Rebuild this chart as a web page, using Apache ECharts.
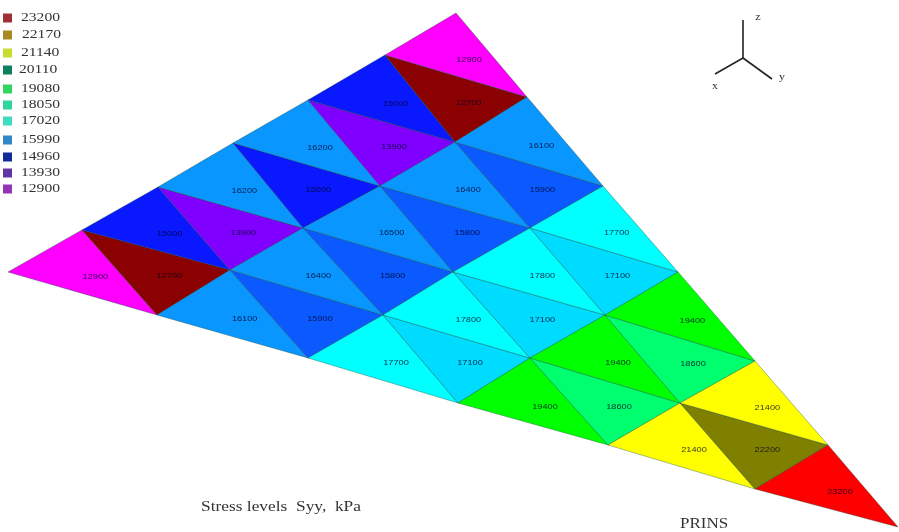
<!DOCTYPE html>
<html>
<head>
<meta charset="utf-8">
<style>html,body{margin:0;padding:0;background:#fff}#c{width:899px;height:532px;filter:blur(0.5px)}</style>
<script src="https://cdn.jsdelivr.net/npm/echarts@6/dist/echarts.min.js"></script>
</head>
<body>
<div id="c"></div>
<script>
// Mesh node positions, one list per row of the mesh
const nodeRowsX = [
  [8, 82, 158, 233, 308, 385, 456],
  [157, 230, 303, 380, 455, 527],
  [308, 383, 453, 530, 603],
  [458, 530, 605, 678],
  [608, 680, 755],
  [755, 828],
  [898]
];
const nodeRowsY = [
  [272, 230, 187, 143, 100, 55, 13],
  [315, 270, 228, 186, 142, 97],
  [358, 315, 272, 228, 186],
  [403, 358, 315, 272],
  [445, 403, 361],
  [489, 445],
  [527]
];
// Element stress per strip of the mesh
const stripValues = [
  [12900, 12700, 15000, 13900, 16200, 15000, 16200, 13900, 15000, 12700, 12900],
  [16100, 15900, 16400, 15800, 16500, 15800, 16400, 15900, 16100],
  [17700, 17100, 17800, 17100, 17800, 17100, 17700],
  [19400, 18600, 19400, 18600, 19400],
  [21400, 22200, 21400],
  [23200]
];
const fillValues = [12700, 12900, 13900, 15000, 15800, 15900, 16100, 16200, 16400, 16500, 17100, 17700, 17800, 18600, 19400, 21400, 22200, 23200];
const fillColors = ['#8b0000', '#ff00ff', '#8000ff', '#0a18ff', '#0a5aff', '#0a5aff', '#0a96ff', '#0a96ff', '#0a96ff', '#0a96ff', '#00dcff', '#00ffff', '#00ffff', '#00ff6e', '#00ff00', '#ffff00', '#808000', '#ff0000'];
// Colour key
const legendLevels = [23200, 22170, 21140, 20110, 19080, 18050, 17020, 15990, 14960, 13930, 12900];
const legendColors = ['#a03038', '#a88a20', '#c8dc30', '#0e8060', '#30d460', '#30d49c', '#40dcc0', '#3088c8', '#102c98', '#6034a4', '#9434b4'];
const legendY = [18, 35, 53, 70, 89, 105, 121, 140, 157, 173, 189];

const triangles = [];
stripValues.forEach((vals, j) => {
  vals.forEach((v, k) => {
    const i = Math.floor(k / 2);
    const X = nodeRowsX, Y = nodeRowsY;
    const pts = k % 2 === 0
      ? [[X[j][i], Y[j][i]], [X[j][i + 1], Y[j][i + 1]], [X[j + 1][i], Y[j + 1][i]]]
      : [[X[j][i + 1], Y[j][i + 1]], [X[j + 1][i + 1], Y[j + 1][i + 1]], [X[j + 1][i], Y[j + 1][i]]];
    triangles.push([pts[0][0], pts[0][1], pts[1][0], pts[1][1], pts[2][0], pts[2][1], v]);
  });
});

const chart = echarts.init(document.getElementById('c'), null, { renderer: 'canvas' });
const serif = '"Liberation Serif", "Times New Roman", serif';
const txt = (x, y, text, size, sx, extra) => ({
  type: 'text', x, y, scaleX: sx,
  style: Object.assign({ text, font: size + 'px ' + serif, fill: '#333', textAlign: 'left', textVerticalAlign: 'middle' }, extra || {})
});
const seg = (a, b, c, d) => ({ type: 'line', shape: { x1: a, y1: b, x2: c, y2: d }, style: { stroke: '#222', lineWidth: 1.6 } });

chart.setOption({
  animation: false,
  backgroundColor: '#fff',
  grid: { left: 0, right: 0, top: 0, bottom: 0 },
  xAxis: { type: 'value', min: 0, max: 899, show: false },
  yAxis: { type: 'value', min: 0, max: 532, inverse: true, show: false },
  series: [{
    type: 'custom',
    coordinateSystem: 'cartesian2d',
    data: triangles,
    encode: { x: [0, 2, 4], y: [1, 3, 5] },
    renderItem(params, api) {
      const p = [0, 2, 4].map(n => api.coord([api.value(n), api.value(n + 1)]));
      const v = api.value(6);
      const cx = (p[0][0] + p[1][0] + p[2][0]) / 3 + 13;
      const cy = (p[0][1] + p[1][1] + p[2][1]) / 3 + 4.5;
      return {
        type: 'group',
        children: [
          { type: 'polygon', shape: { points: p },
            style: { fill: fillColors[fillValues.indexOf(v)], stroke: 'rgba(10,70,50,0.45)', lineWidth: 0.8 } },
          { type: 'text', x: cx, y: cy, z2: 5, scaleX: 1.15,
            style: { text: String(v), font: '8px "Liberation Sans", Arial, sans-serif', fill: 'rgba(0,0,40,0.8)',
              textAlign: 'center', textVerticalAlign: 'middle' } }
        ]
      };
    }
  }],
  graphic: { elements: [
    ...legendLevels.flatMap((lv, k) => [
      { type: 'rect', shape: { x: 3, y: legendY[k] - 4.5, width: 9, height: 9 }, style: { fill: legendColors[k] } },
      txt(lv === 22170 ? 22 : (lv === 20110 ? 19 : 21), legendY[k], String(lv), 13, 1.2)
    ]),
    seg(743, 58, 743, 20), seg(743, 58, 715, 74), seg(743, 58, 772, 79),
    txt(758, 17, 'z', 11, 1.1, { textAlign: 'center' }),
    txt(715, 86, 'x', 11, 1.1, { textAlign: 'center' }),
    txt(782, 77, 'y', 11, 1.1, { textAlign: 'center' }),
    txt(201, 507, 'Stress levels  Syy,  kPa', 14, 1.24),
    txt(680, 524, 'PRINS', 14.5, 1.17)
  ] }
});
</script>
</body>
</html>
